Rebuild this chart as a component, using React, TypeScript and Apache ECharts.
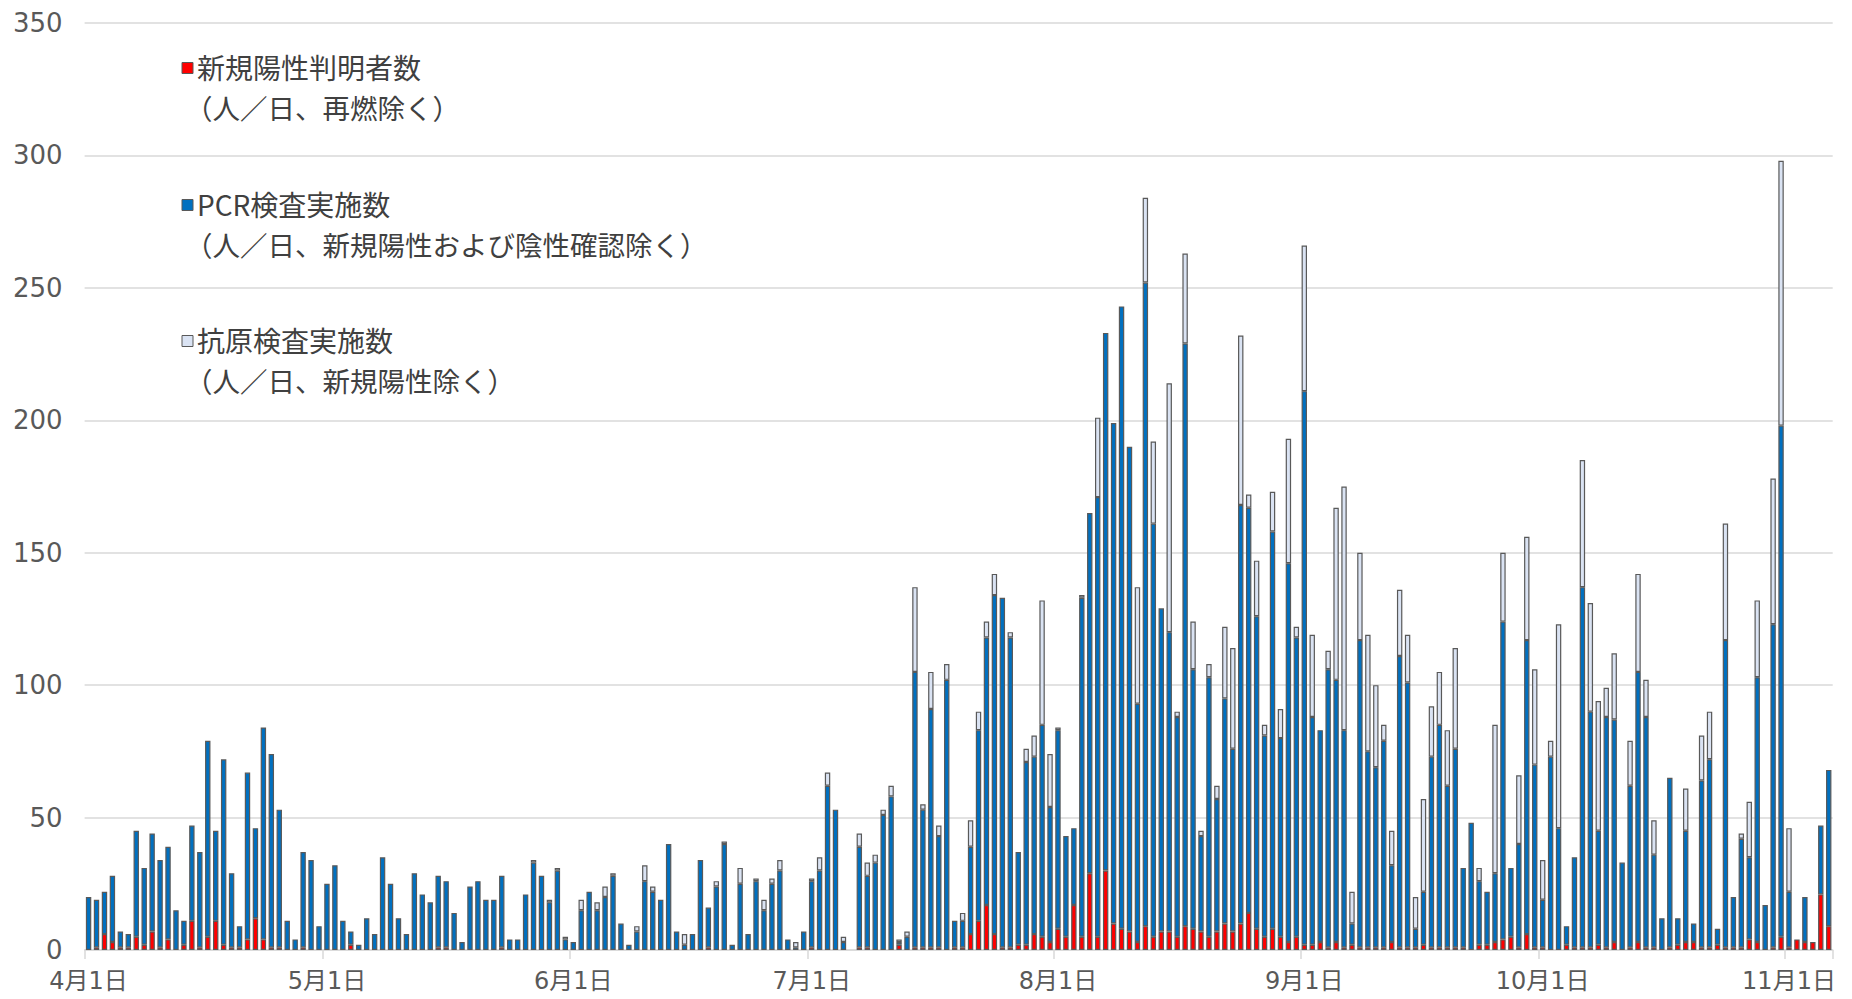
import React, { useEffect, useRef } from "react";
import * as echarts from "echarts";

// month / number of days shown
const monthLengths: [number, number][] = [
  [4, 30], [5, 31], [6, 30], [7, 31], [8, 31], [9, 30], [10, 31], [11, 6],
];
const categories: string[] = [];
for (const [m, n] of monthLengths) for (let d = 1; d <= n; d++) categories.push(`${m}月${d}日`);

// 新規陽性判明者数
const newPositive = [
  0, 1, 6, 3, 1, 1, 5, 2, 7, 1, 4, 0, 2, 11, 1, 5, 11, 2, 1, 1, 4, 12, 4, 1, 1, 0, 0, 1, 0, 0,
  0, 0, 0, 2, 0, 0, 0, 0, 0, 0, 0, 0, 0, 0, 1, 1, 0, 0, 0, 0, 0, 0, 1, 0, 0, 0, 0, 0, 0, 0, 0,
  0, 0, 0, 0, 0, 0, 0, 0, 0, 0, 0, 0, 0, 0, 0, 0, 0, 1, 0, 0, 0, 0, 0, 0, 0, 0, 0, 0, 0, 0,
  1, 0, 0, 0, 0, 0, 1, 1, 0, 0, 0, 2, 0, 1, 1, 1, 1, 0, 1, 1, 6, 11, 17, 6, 1, 1, 2, 2, 6, 5, 3,
  8, 5, 17, 5, 29, 5, 30, 10, 8, 7, 3, 9, 5, 7, 7, 5, 9, 8, 7, 5, 7, 10, 7, 10, 14, 8, 5, 8, 5, 3, 5,
  2, 2, 3, 1, 3, 1, 2, 1, 1, 1, 1, 3, 1, 1, 1, 2, 1, 1, 1, 1, 1, 0, 2, 2, 3, 4, 5, 1, 6, 1,
  1, 0, 0, 2, 1, 1, 1, 2, 1, 3, 0, 1, 3, 1, 1, 0, 1, 2, 3, 3, 1, 1, 2, 1, 1, 1, 4, 3, 0, 1, 5,
  1, 4, 3, 3, 21, 9,
];

// PCR検査実施数
const pcrTests = [
  20, 18, 16, 25, 6, 5, 40, 29, 37, 33, 35, 15, 9, 36, 36, 74, 34, 70, 28, 8, 63, 34, 80, 73, 52, 11, 4, 36, 34, 9,
  25, 32, 11, 5, 2, 12, 6, 35, 25, 12, 6, 29, 21, 18, 27, 25, 14, 3, 24, 26, 19, 19, 27, 4, 4, 21, 33, 28, 18, 30, 4,
  3, 15, 22, 15, 20, 28, 10, 2, 7, 26, 22, 19, 40, 7, 2, 6, 34, 15, 24, 40, 2, 25, 6, 26, 15, 25, 30, 4, 1, 7,
  25, 30, 62, 53, 3, 0, 38, 27, 33, 51, 58, 1, 5, 104, 52, 90, 42, 102, 10, 10, 33, 72, 101, 128, 132, 117, 35, 69, 67, 80, 51,
  75, 38, 29, 128, 136, 166, 203, 189, 235, 183, 90, 243, 156, 122, 113, 83, 220, 98, 36, 98, 50, 85, 69, 158, 153, 118, 76, 150, 75, 143, 113,
  209, 86, 80, 105, 99, 82, 8, 116, 74, 68, 78, 29, 110, 100, 7, 20, 72, 84, 61, 75, 30, 48, 24, 20, 26, 120, 26, 39, 111, 69,
  18, 73, 46, 7, 34, 136, 89, 43, 87, 84, 33, 61, 102, 87, 35, 12, 64, 10, 42, 7, 63, 71, 6, 116, 19, 41, 31, 100, 17, 122, 193,
  21, 0, 17, 0, 26, 59,
];

// 抗原検査実施数
const antigenTests = [
  0, 0, 0, 0, 0, 0, 0, 0, 0, 0, 0, 0, 0, 0, 0, 0, 0, 0, 0, 0, 0, 0, 0, 0, 0, 0, 0, 0, 0, 0,
  0, 0, 0, 0, 0, 0, 0, 0, 0, 0, 0, 0, 0, 0, 0, 0, 0, 0, 0, 0, 0, 0, 0, 0, 0, 0, 1, 0, 1, 1, 1,
  0, 4, 0, 3, 4, 1, 0, 0, 2, 6, 2, 0, 0, 0, 4, 0, 0, 0, 2, 1, 0, 6, 0, 1, 4, 2, 4, 0, 2, 0,
  1, 5, 5, 0, 2, 0, 5, 5, 3, 2, 4, 1, 2, 32, 2, 14, 4, 6, 0, 3, 10, 7, 6, 8, 0, 2, 0, 5, 8, 47, 20,
  1, 0, 0, 1, 0, 30, 0, 0, 0, 0, 44, 32, 31, 0, 94, 2, 34, 18, 2, 5, 5, 27, 38, 64, 5, 21, 4, 15, 11, 47, 4,
  55, 31, 0, 7, 65, 92, 12, 33, 44, 31, 6, 13, 25, 18, 12, 35, 19, 20, 21, 38, 0, 0, 5, 0, 56, 26, 0, 26, 39, 36,
  15, 6, 77, 0, 0, 48, 41, 49, 11, 25, 0, 17, 37, 14, 13, 0, 0, 0, 16, 0, 17, 18, 0, 44, 0, 2, 21, 29, 0, 55, 100,
  24, 0, 0, 0, 0, 0,
];

const seriesNames = ["新規陽性判明者数", "PCR検査実施数", "抗原検査実施数"];
const seriesSubs = [
  "（人／日、再燃除く）",
  "（人／日、新規陽性および陰性確認除く）",
  "（人／日、新規陽性除く）",
];
const seriesColors = ["#FF0000", "#0070C0", "#DAE3F3"];

const BORDER = "#595959";
const GRID = "#d9d9d9";
const TEXT = "#595959";
const CJK = "'Noto Sans CJK JP', sans-serif";
const NUM = "'DejaVu Sans', 'Noto Sans CJK JP', sans-serif";

const isMonthStart = (_i: number, v: string) => /月1日$/.test(v);

export default function App() {
  const ref = useRef<HTMLDivElement>(null);

  useEffect(() => {
    if (!ref.current) return;
    const chart = echarts.init(ref.current, undefined, { renderer: "svg" });
    const toData = (arr: number[]) => arr.map((v) => (v === 0 ? null : v));

    const legendYs = [66.5, 203.5, 339.5];
    const graphicEls: any[] = [];
    seriesNames.forEach((name, i) => {
      const y = legendYs[i];
      graphicEls.push({
        type: "rect",
        shape: { x: 182, y: y - 4, width: 11, height: 11 },
        style: { fill: seriesColors[i], stroke: BORDER, lineWidth: 1 },
      });
      graphicEls.push({
        type: "text",
        x: 197,
        y: y,
        style: {
          text: name,
          fontSize: 28,
          fontFamily: CJK,
          fill: "#404040",
          verticalAlign: "middle",
          align: "left",
        },
      });
      graphicEls.push({
        type: "text",
        x: 185,
        y: y + 40,
        style: {
          text: seriesSubs[i],
          fontSize: 27.5,
          fontFamily: CJK,
          fill: "#404040",
          verticalAlign: "middle",
          align: "left",
        },
      });
    });

    const mkSeries = (i: number, arr: number[]) => ({
      name: seriesNames[i],
      type: "bar",
      stack: "total",
      data: toData(arr),
      barCategoryGap: "32%",
      itemStyle: { color: seriesColors[i], borderColor: BORDER, borderWidth: 1.2 },
      emphasis: { disabled: true },
    });

    chart.setOption({
      animation: false,
      backgroundColor: "#ffffff",
      grid: { left: 84.6, right: 19.3, top: 23, bottom: 49, containLabel: false },
      xAxis: {
        type: "category",
        data: categories,
        boundaryGap: true,
        axisLine: { show: true, lineStyle: { color: GRID, width: 1.5 } },
        axisTick: {
          show: true,
          interval: isMonthStart,
          length: 9,
          lineStyle: { color: GRID, width: 1.5 },
        },
        axisLabel: {
          interval: isMonthStart,
          fontSize: 24,
          color: TEXT,
          fontFamily: NUM,
          margin: 19,
        },
      },
      yAxis: {
        type: "value",
        min: 0,
        max: 350,
        interval: 50,
        axisLine: { show: false },
        axisTick: { show: false },
        axisLabel: { fontSize: 26, color: TEXT, fontFamily: NUM, margin: 22 },
        splitLine: { lineStyle: { color: GRID, width: 1.5 } },
      },
      graphic: { elements: graphicEls },
      series: [
        mkSeries(0, newPositive),
        mkSeries(1, pcrTests),
        mkSeries(2, antigenTests),
      ],
    });

    return () => chart.dispose();
  }, []);

  return (
    <div
      ref={ref}
      style={{ position: "fixed", left: 0, top: 0, width: 1852, height: 999, background: "#fff" }}
    />
  );
}
